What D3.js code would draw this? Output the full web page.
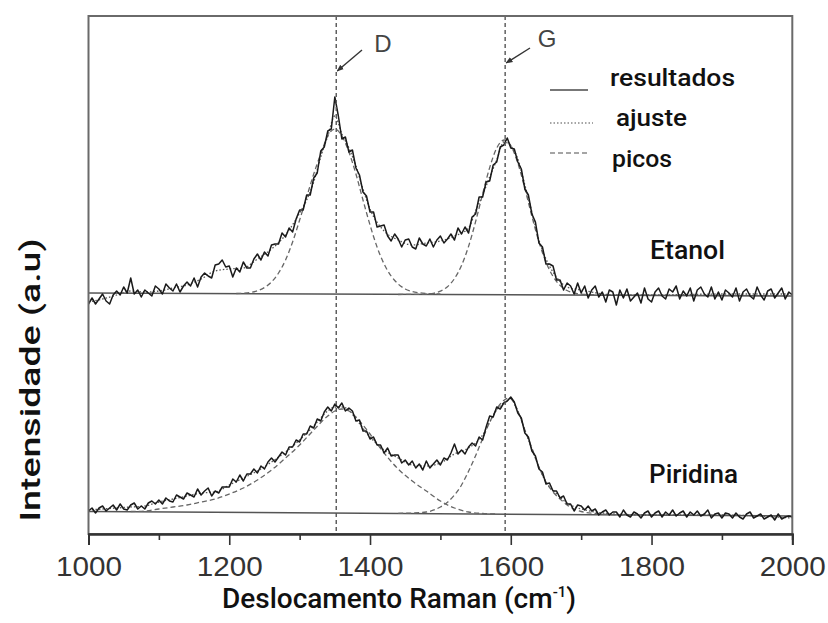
<!DOCTYPE html>
<html><head><meta charset="utf-8">
<script src="https://cdn.jsdelivr.net/npm/d3@7"></script>
<style>body{margin:0;background:#fff}svg{display:block}</style>
</head><body><svg id="c" width="828" height="623"></svg>
<script>
// ---------- DATA ----------
const wavenumbers = d3.range(1000, 2001, 5);
const etanolResultados = [
230,236,230,235,240,233,230,239,243,239,247,241,256,240,244,237,244,241,238,248,
245,240,250,246,243,250,242,248,252,248,256,247,257,261,258,256,269,270,274,267,
268,257,266,262,272,266,266,275,280,274,282,278,289,290,290,301,297,306,302,315,
324,324,339,339,356,361,383,387,403,405,437,418,395,397,382,384,366,359,342,338,
322,322,307,308,309,298,293,300,295,287,294,295,287,285,296,290,288,295,287,294,
298,291,295,300,294,306,300,307,301,317,320,337,337,352,353,369,372,387,389,396,
386,385,372,365,345,339,320,312,291,287,270,270,268,254,254,244,251,248,240,251,
241,248,236,244,248,237,242,232,244,242,229,244,236,245,233,237,241,231,246,235,
232,242,246,238,235,245,242,248,235,243,238,246,233,244,247,240,237,247,235,242,
234,244,241,237,246,233,242,245,238,235,247,239,234,243,245,236,241,246,235,242,
239];
const piridinaResultados = [
23,26,21,26,28,23,26,29,24,30,25,24,29,31,25,28,25,31,33,30,
34,30,36,33,32,39,37,35,41,39,37,45,39,43,46,38,43,41,47,47,
47,55,52,59,53,60,60,65,61,68,65,72,76,72,77,82,79,87,87,94,
92,100,100,108,106,115,113,122,127,123,130,126,131,123,126,123,113,114,103,103,
95,97,89,89,81,86,78,79,79,71,74,69,73,66,70,64,73,66,70,74,
69,76,74,81,90,80,84,80,87,91,88,97,94,107,118,117,127,125,131,133,
137,132,121,116,101,97,83,78,65,62,50,51,43,43,36,38,30,30,23,29,
28,24,28,23,25,19,22,24,19,22,22,17,24,19,17,22,20,16,21,23,
17,21,23,17,22,19,24,18,21,23,17,22,19,23,18,20,24,16,20,21,
16,21,20,16,21,17,15,20,22,16,18,20,15,17,19,14,20,15,17,18,
17];
const etanolAjuste = [[1000,232],[1020,235],[1040,239],[1060,243],[1080,242],[1100,243],[1120,246],[1140,249],[1160,255],[1180,263],[1200,265],[1220,266],[1240,275],[1260,285],[1280,299],[1300,321],[1310,334],[1320,352],[1330,377],[1340,398],[1350,418],[1360,400],[1370,386],[1380,368],[1390,345],[1400,325],[1420,303],[1440,294],[1460,289],[1480,291],[1500,293],[1520,298],[1540,306],[1550,323],[1560,339],[1570,357],[1580,374],[1590,392],[1600,388],[1610,375],[1620,349],[1630,322],[1640,294],[1650,275],[1660,262],[1680,247],[1700,244],[1750,239],[1800,239],[1900,240],[2000,240]];
const piridinaAjuste = [[1000,24],[1020,25],[1040,26],[1060,27],[1080,28],[1100,32],[1120,35],[1140,38],[1160,41],[1180,42],[1200,49],[1220,56],[1240,63],[1260,72],[1280,82],[1300,94],[1320,108],[1340,123],[1350,127],[1360,127],[1370,124],[1380,115],[1400,97],[1420,84],[1440,76],[1460,69],[1480,68],[1500,71],[1520,80],[1540,86],[1560,99],[1570,112],[1580,124],[1590,131],[1600,135],[1610,123],[1620,104],[1630,85],[1640,67],[1650,52],[1660,44],[1680,31],[1700,25],[1750,20],[1800,19],[1900,19],[2000,16]];
const etanolPicoD = [[1210,240.5],[1220,240.8],[1230,241.5],[1240,243.2],[1250,246.5],[1260,252],[1270,261],[1280,274],[1290,292],[1300,314],[1310,337],[1320,360],[1330,380],[1340,398],[1350,405],[1360,398],[1370,382],[1380,360],[1390,334],[1400,309],[1410,287],[1420,270],[1430,258],[1440,250],[1450,245],[1460,242.5],[1470,241.2],[1480,240.5],[1500,240]];
const etanolPicoG = [[1440,239.5],[1460,239.6],[1480,239.8],[1490,240.6],[1500,242.9],[1510,247.3],[1520,255.4],[1530,268.5],[1540,287.6],[1550,312.3],[1560,340],[1570,366.4],[1580,385.9],[1591,394],[1600,388.5],[1610,370.9],[1620,345.6],[1630,317.7],[1640,292.2],[1650,271.9],[1660,257.6],[1670,248.6],[1680,243.5],[1690,241],[1700,239.8],[1720,239.3]];
const piridinaPicoD = [[1060,22.5],[1080,23],[1100,25],[1120,27],[1140,29],[1160,32],[1180,35],[1200,40],[1220,46],[1240,54],[1260,64],[1280,76],[1300,89],[1320,104],[1340,118],[1350,123],[1360,125],[1370,123],[1380,117],[1390,109],[1400,100],[1420,81],[1440,65],[1460,53],[1480,43],[1500,33],[1520,26],[1540,22],[1560,20.5],[1580,20]];
const piridinaPicoG = [[1440,20.7],[1460,21],[1480,22],[1500,27],[1510,31.8],[1520,39],[1530,49],[1540,62.7],[1550,78.3],[1560,95.3],[1570,111.7],[1580,125],[1590,133.6],[1598,136],[1610,123],[1620,104],[1630,86],[1640,67],[1650,52],[1660,42],[1670,35],[1680,29],[1690,25],[1700,22.5],[1720,20.5],[1740,19.5],[1760,19]];
const etanolBaseline = [[1000,241],[2000,238]];
const piridinaBaseline = [[1000,22.5],[2000,18]];
const peakPositions = [1352, 1592];
const peakNames = ["D", "G"];
const seriesNames = ["Etanol", "Piridina"];
const legendLabels = ["resultados", "ajuste", "picos"];
const majorTicks = [1000, 1200, 1400, 1600, 1800, 2000];
const minorTicks = [1100, 1300, 1500, 1700, 1900];

// ---------- CHART ----------
const svg = d3.select("#c");
const L = 88.5, R = 792.3, T = 16, B = 534;
const x = d3.scaleLinear().domain([1000, 2000]).range([L, R]);
const y = d3.scaleLinear().domain([0, 518]).range([B, T]);
const lineP = d3.line().x(d => x(d[0])).y(d => y(d[1]));
const lineS = d3.line().x(d => x(d[0])).y(d => y(d[1])).curve(d3.curveMonotoneX);

const defs = svg.append("defs");
defs.append("marker").attr("id", "arr").attr("viewBox", "0 0 10 10")
  .attr("refX", 9).attr("refY", 5).attr("markerWidth", 7).attr("markerHeight", 7)
  .attr("orient", "auto").attr("markerUnits", "userSpaceOnUse")
  .append("path").attr("d", "M0,1 L10,5 L0,9 z").attr("fill", "#333");

const g = svg.append("g");
[etanolBaseline, piridinaBaseline].forEach(b => {
  g.append("path").attr("d", lineP(b)).attr("fill", "none")
    .attr("stroke", "#555").attr("stroke-width", 1.6);
});
[etanolPicoD, etanolPicoG, piridinaPicoD, piridinaPicoG].forEach(p => {
  g.append("path").attr("d", lineS(p)).attr("fill", "none")
    .attr("stroke", "#666").attr("stroke-width", 1.3).attr("stroke-dasharray", "5,3");
});
[etanolAjuste, piridinaAjuste].forEach(p => {
  g.append("path").attr("d", lineS(p)).attr("fill", "none")
    .attr("stroke", "#555").attr("stroke-width", 1.3).attr("stroke-dasharray", "1.5,2");
});
[etanolResultados, piridinaResultados].forEach(vals => {
  const pts = vals.map((v, i) => [wavenumbers[i], v]);
  g.append("path").attr("d", lineP(pts)).attr("fill", "none")
    .attr("stroke", "#1a1a1a").attr("stroke-width", 1.5).attr("stroke-linejoin", "round");
});
g.selectAll(".vl").data(peakPositions).enter().append("line")
  .attr("x1", d => x(d)).attr("x2", d => x(d)).attr("y1", T).attr("y2", B)
  .attr("stroke", "#555").attr("stroke-width", 1.4).attr("stroke-dasharray", "4,3");

svg.append("rect").attr("x", L).attr("y", T).attr("width", R - L).attr("height", B - T)
  .attr("fill", "none").attr("stroke", "#6a6a6a").attr("stroke-width", 2);

const axMinor = svg.append("g").attr("transform", `translate(0,${B})`)
  .call(d3.axisBottom(x).tickValues(minorTicks).tickSize(6).tickFormat(""));
const axMajor = svg.append("g").attr("transform", `translate(0,${B})`)
  .call(d3.axisBottom(x).tickValues(majorTicks).tickSize(11).tickPadding(12).tickFormat(d3.format("d")));
[axMinor, axMajor].forEach(a => {
  a.select(".domain").attr("stroke", "#333").attr("stroke-width", 2);
  a.selectAll(".tick line").attr("stroke", "#333").attr("stroke-width", 1.6);
});
axMajor.selectAll(".tick text").attr("font-family", "Liberation Sans, Arial, sans-serif")
  .attr("font-size", 27).attr("fill", "#333")
  .attr("textLength", 66).attr("lengthAdjust", "spacingAndGlyphs");

const peakLab = [
  {name: peakNames[0], pos: peakPositions[0], tx: 383, ty: 52, ax1: 362, ay1: 50, ay2: 71},
  {name: peakNames[1], pos: peakPositions[1], tx: 547, ty: 47, ax1: 530, ay1: 48, ay2: 63}
];
peakLab.forEach(p => {
  svg.append("text").attr("x", p.tx).attr("y", p.ty).attr("text-anchor", "middle")
    .attr("font-family", "Liberation Sans, Arial, sans-serif").attr("font-size", 24)
    .attr("fill", "#444").text(p.name);
  svg.append("line").attr("x1", p.ax1).attr("y1", p.ay1).attr("x2", x(p.pos) + 1).attr("y2", p.ay2)
    .attr("stroke", "#333").attr("stroke-width", 1.4).attr("marker-end", "url(#arr)");
});

const legY = [90, 123, 153];
const legDash = [null, "1.5,2", "5,3"];
const legX2 = [588, 593, 588];
const legTextX = [610, 616, 612];
const legTextY = [86, 126, 167];
const legTextW = [125, 71, 60];
legendLabels.forEach((lab, i) => {
  svg.append("line").attr("x1", 550).attr("x2", legX2[i]).attr("y1", legY[i]).attr("y2", legY[i])
    .attr("stroke", i === 0 ? "#777" : "#888").attr("stroke-width", i === 0 ? 2 : 1.6)
    .attr("stroke-dasharray", legDash[i]);
  svg.append("text").attr("x", legTextX[i]).attr("y", legTextY[i])
    .attr("font-family", "Roboto, sans-serif").attr("font-weight", 500).attr("font-size", 24).attr("fill", "#111")
    .attr("textLength", legTextW[i]).attr("lengthAdjust", "spacingAndGlyphs").text(lab);
});

const nameX = [650, 649];
const nameY = [259, 483];
const nameW = [75, 89];
seriesNames.forEach((n, i) => {
  svg.append("text").attr("x", nameX[i]).attr("y", nameY[i])
    .attr("font-family", "Roboto, sans-serif").attr("font-weight", 500).attr("font-size", 25).attr("fill", "#111")
    .attr("textLength", nameW[i]).attr("lengthAdjust", "spacingAndGlyphs").text(n);
});

const xt = svg.append("text").attr("x", 399).attr("y", 608).attr("text-anchor", "middle")
  .attr("font-family", "Roboto, sans-serif").attr("font-weight", 500).attr("font-size", 28).attr("fill", "#111");
xt.append("tspan").text("Deslocamento Raman (cm");
xt.append("tspan").attr("font-size", 15).attr("dy", -11).text("-1");
xt.append("tspan").attr("dy", 11).text(")");

svg.append("text").attr("transform", "translate(40,380) rotate(-90)").attr("text-anchor", "middle")
  .attr("font-family", "Roboto, sans-serif").attr("font-weight", 500).attr("font-size", 28).attr("fill", "#111")
  .attr("textLength", 283).attr("lengthAdjust", "spacingAndGlyphs")
  .text("Intensidade (a.u)");
</script></body></html>
